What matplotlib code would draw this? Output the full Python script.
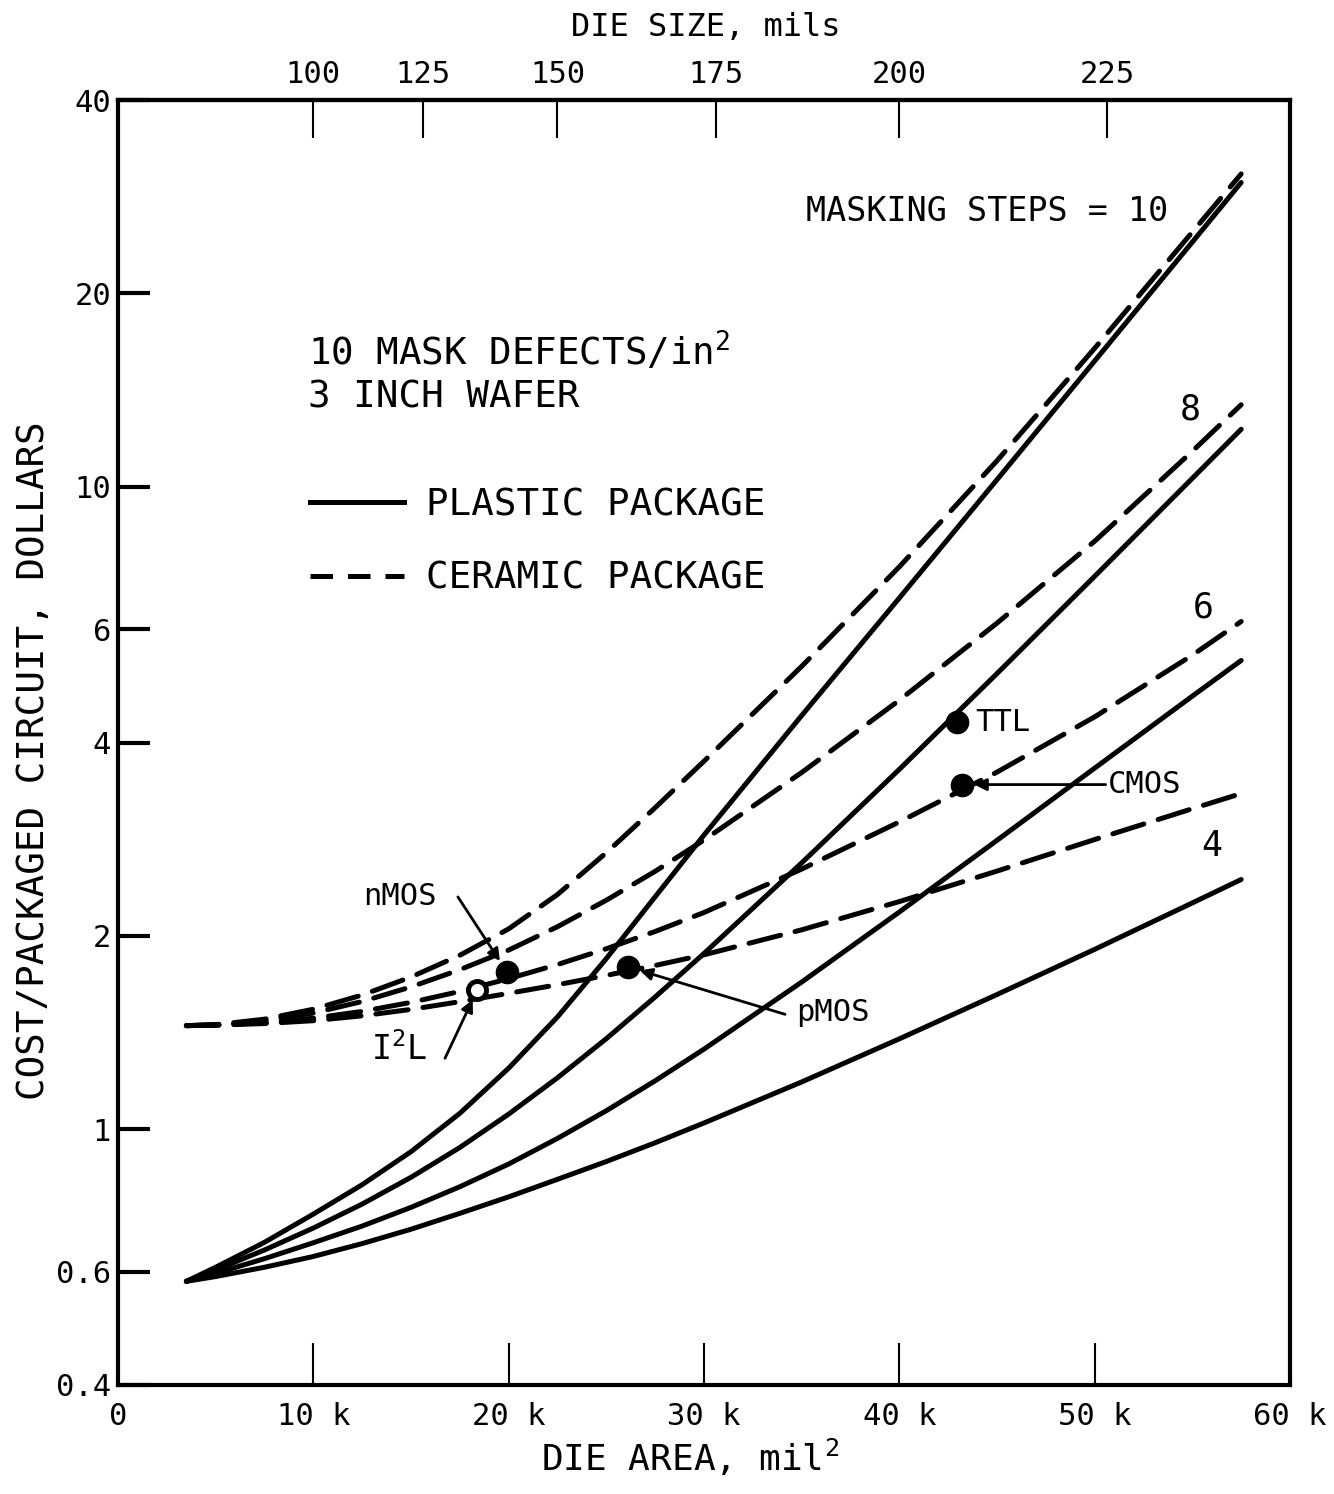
import numpy as np
import matplotlib

matplotlib.use("Agg")

import matplotlib.pyplot as plt
from matplotlib.lines import Line2D

# Die area in thousands of mil^2, sampled along every curve
AREA_K = [3.5, 5, 7.5, 10, 12.5, 15, 17.5, 20, 22.5, 25, 27.5, 30, 35, 40, 45, 50, 55, 57.5]

# Plastic package cost, dollars (masking steps 10, 8, 6, 4)
PLASTIC_10 = [0.580, 0.610, 0.667, 0.738, 0.820, 0.923, 1.059, 1.245, 1.496, 1.844,
              2.301, 2.871, 4.406, 6.714, 10.26, 15.70, 24.04, 29.76]
PLASTIC_8 = [0.580, 0.604, 0.649, 0.702, 0.765, 0.842, 0.937, 1.056, 1.203, 1.384,
             1.607, 1.878, 2.598, 3.633, 5.121, 7.257, 10.31, 12.29]
PLASTIC_6 = [0.580, 0.597, 0.629, 0.666, 0.707, 0.756, 0.814, 0.883, 0.968, 1.069,
             1.190, 1.333, 1.695, 2.179, 2.817, 3.649, 4.723, 5.367]
PLASTIC_4 = [0.580, 0.590, 0.610, 0.634, 0.664, 0.699, 0.740, 0.785, 0.836, 0.891,
             0.953, 1.023, 1.185, 1.383, 1.621, 1.906, 2.251, 2.448]

# Ceramic package cost, dollars
CERAMIC_10 = [1.450, 1.455, 1.484, 1.538, 1.618, 1.726, 1.866, 2.051, 2.320, 2.695,
              3.167, 3.741, 5.255, 7.508, 10.98, 16.43, 24.92, 30.69]
CERAMIC_8 = [1.450, 1.455, 1.476, 1.517, 1.581, 1.666, 1.772, 1.901, 2.067, 2.273,
             2.521, 2.820, 3.592, 4.655, 6.136, 8.229, 11.36, 13.42]
CERAMIC_6 = [1.450, 1.453, 1.466, 1.489, 1.526, 1.576, 1.639, 1.716, 1.805, 1.910,
             2.032, 2.175, 2.541, 3.009, 3.597, 4.385, 5.470, 6.172]
CERAMIC_4 = [1.450, 1.452, 1.461, 1.476, 1.502, 1.537, 1.580, 1.628, 1.679, 1.736,
             1.799, 1.869, 2.044, 2.262, 2.523, 2.825, 3.155, 3.331]

# Technology points: die area (k mil^2) and cost
TECH_NAMES = ["TTL", "CMOS", "pMOS", "nMOS", "I2L"]
TECH_AREA_K = [42.95, 43.2, 26.1, 19.9, 18.4]
TECH_COST = [4.30, 3.44, 1.79, 1.76, 1.65]

X_TICKS = [0, 10, 20, 30, 40, 50, 60]
X_LABELS = ["0", "10 k", "20 k", "30 k", "40 k", "50 k", "60 k"]
Y_TICKS = [0.4, 0.6, 1, 2, 4, 6, 10, 20, 40]
Y_LABELS = ["0.4", "0.6", "1", "2", "4", "6", "10", "20", "40"]
DIE_SIZE_TICKS = [100, 125, 150, 175, 200, 225]

LW = 3.6
DASH = (6.5, 3.0)

plt.rcParams["font.family"] = ["DejaVu Sans Mono"]
plt.rcParams["mathtext.fontset"] = "custom"
plt.rcParams["mathtext.rm"] = "DejaVu Sans Mono"
plt.rcParams["mathtext.it"] = "DejaVu Sans Mono"
plt.rcParams["mathtext.bf"] = "DejaVu Sans Mono:bold"

fig = plt.figure(figsize=(13.34, 14.94), dpi=100)
ax = fig.add_axes([118 / 1334, 109 / 1494, 1172 / 1334, 1285 / 1494])

for ys in (PLASTIC_10, PLASTIC_8, PLASTIC_6, PLASTIC_4):
    ax.plot(AREA_K, ys, color="black", lw=LW, solid_capstyle="round",
            solid_joinstyle="round")
for ys in (CERAMIC_10, CERAMIC_8, CERAMIC_6, CERAMIC_4):
    ax.plot(AREA_K, ys, color="black", lw=LW, dashes=DASH,
            dash_capstyle="round")

ax.set_yscale("log")
ax.set_xlim(0, 60)
ax.set_ylim(0.4, 40)

ax.set_xticks(X_TICKS)
ax.set_xticklabels(X_LABELS)
ax.set_yticks(Y_TICKS)
ax.set_yticklabels(Y_LABELS)
ax.yaxis.set_minor_locator(matplotlib.ticker.NullLocator())
ax.tick_params(axis="x", direction="in", length=30, width=1.5, labelsize=22, pad=12)
ax.tick_params(axis="y", direction="in", length=23, width=3, labelsize=22, pad=5)

for spine in ax.spines.values():
    spine.set_linewidth(3)

ax.set_xlabel("DIE AREA, mil$^2$", fontsize=26)
ax.xaxis.set_label_coords(0.488, -0.040)
ax.set_ylabel("COST/PACKAGED CIRCUIT, DOLLARS", fontsize=27)
ax.yaxis.set_label_coords(-0.056, 0.486)

# Top axis: die edge in mils, area = size^2
secax = ax.secondary_xaxis(
    "top",
    functions=(lambda a: np.sqrt(np.maximum(a, 0) * 1000.0),
               lambda s: np.asarray(s) ** 2 / 1000.0),
)
secax.set_xticks(DIE_SIZE_TICKS)
secax.set_xticklabels([str(s) for s in DIE_SIZE_TICKS])
secax.tick_params(direction="in", length=27, width=1.5, labelsize=22, pad=8)
secax.spines["top"].set_linewidth(3)
fig.text(706 / 1334, 1 - 28 / 1494, "DIE SIZE, mils", fontsize=23,
         ha="center", va="center")

# Technology markers
for name, xa, yc in zip(TECH_NAMES, TECH_AREA_K, TECH_COST):
    if name == "I2L":
        ax.plot(xa, yc, "o", ms=13, mfc="white", mec="black", mew=3.5)
    else:
        ax.plot(xa, yc, "o", ms=16, color="black")

arrow = dict(arrowstyle="-|>", lw=2, color="black", mutation_scale=18,
             shrinkA=0, shrinkB=9)
ax.text(43.87, 4.30, "TTL", fontsize=22, va="center", ha="left")
ax.annotate("CMOS", xy=(43.2, 3.44), xytext=(50.7, 3.44), fontsize=22,
            va="center", ha="left", arrowprops=arrow)
ax.text(34.7, 1.52, "pMOS", fontsize=22, va="center", ha="left")
ax.annotate("", xy=(26.1, 1.79), xytext=(34.15, 1.51), arrowprops=arrow)
ax.text(14.44, 2.30, "nMOS", fontsize=22, va="center", ha="center")
ax.annotate("", xy=(19.9, 1.76), xytext=(17.4, 2.30), arrowprops=arrow)
ax.text(14.39, 1.33, "I$^2$L", fontsize=24, va="center", ha="center")
ax.annotate("", xy=(18.4, 1.65), xytext=(16.74, 1.29),
            arrowprops=dict(arrow, shrinkB=8))

# Annotations in the plot area
ax.text(0.742, 0.913, "MASKING STEPS = 10", transform=ax.transAxes,
        fontsize=24, ha="center", va="center")
ax.text(0.9147, 0.7588, "8", transform=ax.transAxes, fontsize=25,
        ha="center", va="center")
ax.text(0.9258, 0.6047, "6", transform=ax.transAxes, fontsize=25,
        ha="center", va="center")
ax.text(0.9334, 0.4195, "4", transform=ax.transAxes, fontsize=25,
        ha="center", va="center")
ax.text(0.1621, 0.8039, "10 MASK DEFECTS/in$^2$", transform=ax.transAxes,
        fontsize=27, ha="left", va="center")
ax.text(0.1621, 0.7681, "3 INCH WAFER", transform=ax.transAxes,
        fontsize=27, ha="left", va="center")

# Legend for package type
handles = [
    Line2D([], [], color="black", lw=LW),
    Line2D([], [], color="black", lw=LW, dashes=(4.5, 3.0)),
]
ax.legend(handles, ["PLASTIC PACKAGE", "CERAMIC PACKAGE"], loc="upper left",
          bbox_to_anchor=(0.1638, 0.6985), frameon=False, fontsize=27,
          handlelength=2.5, handletextpad=0.6, labelspacing=1.0,
          borderpad=0, borderaxespad=0)

fig.savefig("out.png", dpi=100)
